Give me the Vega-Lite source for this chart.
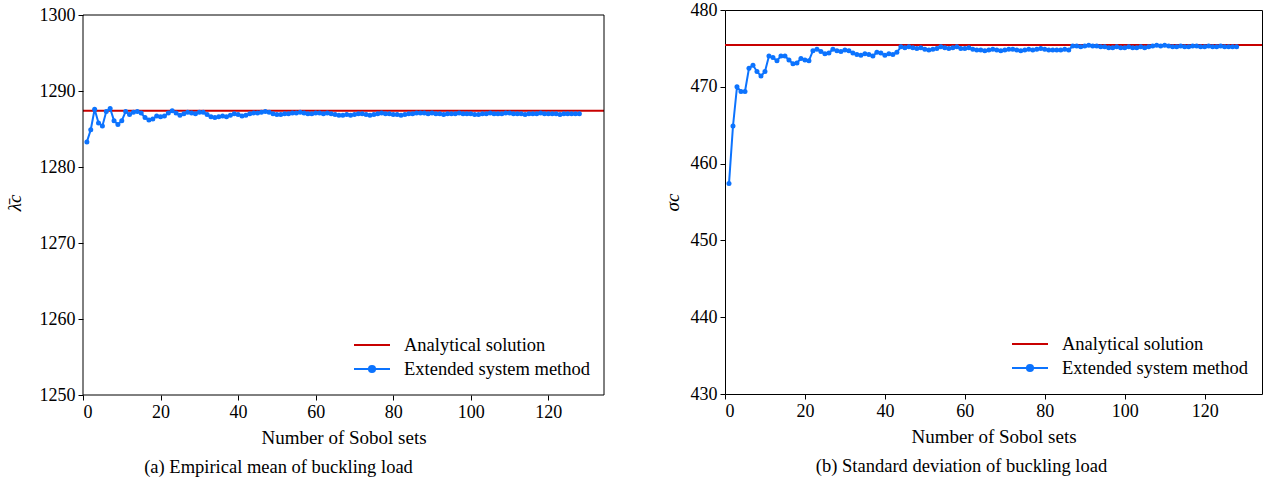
{
  "$schema": "https://vega.github.io/schema/vega-lite/v6.json",
  "padding": {"left": 5, "top": 0, "right": 5, "bottom": 5},
  "background": "white",
  "config": {
    "font": "Liberation Serif",
    "view": {"stroke": "black", "strokeWidth": 1},
    "axis": {
      "labelFont": "Liberation Serif", "labelFontSize": 18, "labelColor": "black",
      "titleFont": "Liberation Serif", "titleFontSize": 19, "titleFontWeight": "normal", "titleColor": "black",
      "tickColor": "black", "tickSize": 5, "tickWidth": 1, "domain": false, "grid": false, "labelPadding": 3
    },
    "legend": {
      "labelFont": "Liberation Serif", "labelFontSize": 18.5, "labelColor": "black", "labelLimit": 0,
      "symbolStrokeWidth": 2, "symbolSize": 1296, "clipHeight": 24, "rowPadding": 0, "padding": 0, "labelOffset": 13
    },
    "title": {"font": "Liberation Serif", "fontSize": 18.5, "fontWeight": "normal", "color": "black"}
  },
  "datasets": {
    "mean": [
      {"n": 1, "v": 1283.3}, {"n": 2, "v": 1284.9}, {"n": 3, "v": 1287.6}, {"n": 4, "v": 1285.8},
      {"n": 5, "v": 1285.4}, {"n": 6, "v": 1287.3}, {"n": 7, "v": 1287.7}, {"n": 8, "v": 1286.1},
      {"n": 9, "v": 1285.6}, {"n": 10, "v": 1286.1}, {"n": 11, "v": 1287.3}, {"n": 12, "v": 1286.9},
      {"n": 13, "v": 1287.2}, {"n": 14, "v": 1287.3}, {"n": 15, "v": 1287.1}, {"n": 16, "v": 1286.5},
      {"n": 17, "v": 1286.2}, {"n": 18, "v": 1286.3}, {"n": 19, "v": 1286.7}, {"n": 20, "v": 1286.6},
      {"n": 21, "v": 1286.7}, {"n": 22, "v": 1287.1}, {"n": 23, "v": 1287.4}, {"n": 24, "v": 1287.1},
      {"n": 25, "v": 1286.8}, {"n": 26, "v": 1287.0}, {"n": 27, "v": 1287.2}, {"n": 28, "v": 1287.1},
      {"n": 29, "v": 1287.0}, {"n": 30, "v": 1287.2}, {"n": 31, "v": 1287.2}, {"n": 32, "v": 1286.9},
      {"n": 33, "v": 1286.6}, {"n": 34, "v": 1286.5}, {"n": 35, "v": 1286.6}, {"n": 36, "v": 1286.7},
      {"n": 37, "v": 1286.6}, {"n": 38, "v": 1286.8}, {"n": 39, "v": 1287.0}, {"n": 40, "v": 1286.9},
      {"n": 41, "v": 1286.7}, {"n": 42, "v": 1286.8}, {"n": 43, "v": 1287.0}, {"n": 44, "v": 1287.1},
      {"n": 45, "v": 1287.1}, {"n": 46, "v": 1287.2}, {"n": 47, "v": 1287.3}, {"n": 48, "v": 1287.2},
      {"n": 49, "v": 1287.0}, {"n": 50, "v": 1286.9}, {"n": 51, "v": 1286.9}, {"n": 52, "v": 1287.0},
      {"n": 53, "v": 1287.0}, {"n": 54, "v": 1287.1}, {"n": 55, "v": 1287.1}, {"n": 56, "v": 1287.2},
      {"n": 57, "v": 1287.1}, {"n": 58, "v": 1287.0}, {"n": 59, "v": 1287.0}, {"n": 60, "v": 1287.1},
      {"n": 61, "v": 1287.1}, {"n": 62, "v": 1287.0}, {"n": 63, "v": 1287.1}, {"n": 64, "v": 1287.0},
      {"n": 65, "v": 1286.9}, {"n": 66, "v": 1286.8}, {"n": 67, "v": 1286.8}, {"n": 68, "v": 1286.9},
      {"n": 69, "v": 1286.8}, {"n": 70, "v": 1286.9}, {"n": 71, "v": 1287.0}, {"n": 72, "v": 1287.0},
      {"n": 73, "v": 1286.9}, {"n": 74, "v": 1286.8}, {"n": 75, "v": 1286.9}, {"n": 76, "v": 1287.0},
      {"n": 77, "v": 1287.1}, {"n": 78, "v": 1287.0}, {"n": 79, "v": 1287.0}, {"n": 80, "v": 1286.9},
      {"n": 81, "v": 1286.9}, {"n": 82, "v": 1286.8}, {"n": 83, "v": 1286.9}, {"n": 84, "v": 1287.0},
      {"n": 85, "v": 1287.0}, {"n": 86, "v": 1287.1}, {"n": 87, "v": 1287.1}, {"n": 88, "v": 1287.1},
      {"n": 89, "v": 1287.0}, {"n": 90, "v": 1287.1}, {"n": 91, "v": 1287.0}, {"n": 92, "v": 1287.0},
      {"n": 93, "v": 1286.9}, {"n": 94, "v": 1287.0}, {"n": 95, "v": 1287.0}, {"n": 96, "v": 1287.0},
      {"n": 97, "v": 1287.1}, {"n": 98, "v": 1287.0}, {"n": 99, "v": 1287.0}, {"n": 100, "v": 1287.0},
      {"n": 101, "v": 1286.9}, {"n": 102, "v": 1286.9}, {"n": 103, "v": 1287.0}, {"n": 104, "v": 1287.0},
      {"n": 105, "v": 1287.1}, {"n": 106, "v": 1287.0}, {"n": 107, "v": 1287.0}, {"n": 108, "v": 1287.0},
      {"n": 109, "v": 1287.1}, {"n": 110, "v": 1287.1}, {"n": 111, "v": 1287.0}, {"n": 112, "v": 1287.0},
      {"n": 113, "v": 1287.0}, {"n": 114, "v": 1286.9}, {"n": 115, "v": 1287.0}, {"n": 116, "v": 1287.0},
      {"n": 117, "v": 1287.0}, {"n": 118, "v": 1287.1}, {"n": 119, "v": 1287.0}, {"n": 120, "v": 1287.0},
      {"n": 121, "v": 1287.0}, {"n": 122, "v": 1287.0}, {"n": 123, "v": 1286.9}, {"n": 124, "v": 1287.0},
      {"n": 125, "v": 1287.0}, {"n": 126, "v": 1287.0}, {"n": 127, "v": 1287.0}, {"n": 128, "v": 1287.0}
    ],
    "std": [
      {"n": 1, "v": 457.4}, {"n": 2, "v": 464.9}, {"n": 3, "v": 470.0}, {"n": 4, "v": 469.4},
      {"n": 5, "v": 469.4}, {"n": 6, "v": 472.4}, {"n": 7, "v": 472.8}, {"n": 8, "v": 472.0},
      {"n": 9, "v": 471.4}, {"n": 10, "v": 472.0}, {"n": 11, "v": 474.0}, {"n": 12, "v": 473.8},
      {"n": 13, "v": 473.4}, {"n": 14, "v": 474.0}, {"n": 15, "v": 474.0}, {"n": 16, "v": 473.5},
      {"n": 17, "v": 473.0}, {"n": 18, "v": 473.1}, {"n": 19, "v": 473.7}, {"n": 20, "v": 473.5},
      {"n": 21, "v": 473.4}, {"n": 22, "v": 474.7}, {"n": 23, "v": 474.9}, {"n": 24, "v": 474.6},
      {"n": 25, "v": 474.3}, {"n": 26, "v": 474.4}, {"n": 27, "v": 474.9}, {"n": 28, "v": 474.7},
      {"n": 29, "v": 474.6}, {"n": 30, "v": 474.8}, {"n": 31, "v": 474.7}, {"n": 32, "v": 474.4},
      {"n": 33, "v": 474.2}, {"n": 34, "v": 474.1}, {"n": 35, "v": 474.3}, {"n": 36, "v": 474.2},
      {"n": 37, "v": 474.0}, {"n": 38, "v": 474.5}, {"n": 39, "v": 474.4}, {"n": 40, "v": 474.1},
      {"n": 41, "v": 474.3}, {"n": 42, "v": 474.2}, {"n": 43, "v": 474.5}, {"n": 44, "v": 475.2},
      {"n": 45, "v": 475.1}, {"n": 46, "v": 475.2}, {"n": 47, "v": 475.1}, {"n": 48, "v": 475.0},
      {"n": 49, "v": 475.1}, {"n": 50, "v": 474.9}, {"n": 51, "v": 474.8}, {"n": 52, "v": 474.9},
      {"n": 53, "v": 475.0}, {"n": 54, "v": 475.2}, {"n": 55, "v": 475.1}, {"n": 56, "v": 475.0},
      {"n": 57, "v": 475.1}, {"n": 58, "v": 475.2}, {"n": 59, "v": 475.0}, {"n": 60, "v": 475.0},
      {"n": 61, "v": 475.1}, {"n": 62, "v": 474.9}, {"n": 63, "v": 474.8}, {"n": 64, "v": 474.8},
      {"n": 65, "v": 474.7}, {"n": 66, "v": 474.8}, {"n": 67, "v": 474.9}, {"n": 68, "v": 474.8},
      {"n": 69, "v": 474.7}, {"n": 70, "v": 474.8}, {"n": 71, "v": 474.9}, {"n": 72, "v": 474.9},
      {"n": 73, "v": 474.8}, {"n": 74, "v": 474.7}, {"n": 75, "v": 474.8}, {"n": 76, "v": 474.9},
      {"n": 77, "v": 474.8}, {"n": 78, "v": 474.9}, {"n": 79, "v": 475.0}, {"n": 80, "v": 474.9},
      {"n": 81, "v": 474.8}, {"n": 82, "v": 474.8}, {"n": 83, "v": 474.8}, {"n": 84, "v": 474.8},
      {"n": 85, "v": 474.9}, {"n": 86, "v": 474.8}, {"n": 87, "v": 475.3}, {"n": 88, "v": 475.3},
      {"n": 89, "v": 475.2}, {"n": 90, "v": 475.3}, {"n": 91, "v": 475.4}, {"n": 92, "v": 475.3},
      {"n": 93, "v": 475.3}, {"n": 94, "v": 475.2}, {"n": 95, "v": 475.2}, {"n": 96, "v": 475.1},
      {"n": 97, "v": 475.1}, {"n": 98, "v": 475.2}, {"n": 99, "v": 475.1}, {"n": 100, "v": 475.1},
      {"n": 101, "v": 475.2}, {"n": 102, "v": 475.1}, {"n": 103, "v": 475.1}, {"n": 104, "v": 475.2},
      {"n": 105, "v": 475.1}, {"n": 106, "v": 475.2}, {"n": 107, "v": 475.3}, {"n": 108, "v": 475.4},
      {"n": 109, "v": 475.3}, {"n": 110, "v": 475.4}, {"n": 111, "v": 475.3}, {"n": 112, "v": 475.2},
      {"n": 113, "v": 475.2}, {"n": 114, "v": 475.3}, {"n": 115, "v": 475.2}, {"n": 116, "v": 475.2},
      {"n": 117, "v": 475.3}, {"n": 118, "v": 475.3}, {"n": 119, "v": 475.2}, {"n": 120, "v": 475.2},
      {"n": 121, "v": 475.3}, {"n": 122, "v": 475.2}, {"n": 123, "v": 475.2}, {"n": 124, "v": 475.3},
      {"n": 125, "v": 475.2}, {"n": 126, "v": 475.2}, {"n": 127, "v": 475.2}, {"n": 128, "v": 475.2}
    ]
  },
  "resolve": {
    "scale": {"x": "independent", "y": "independent", "color": "independent"},
    "legend": {"color": "independent"}
  },
  "spacing": 57,
  "hconcat": [
    {
      "width": 521,
      "height": 385,
      "view": {"stroke": null},
      "title": {"text": "(a) Empirical mean of buckling load", "orient": "bottom", "anchor": "middle", "frame": "group", "dx": -65, "offset": 11},
      "layer": [
        {
          "data": {"values": [{"v": 1287.4}]},
          "mark": {"type": "rule", "strokeWidth": 2},
          "encoding": {
            "y": {"field": "v", "type": "quantitative"},
            "color": {"datum": "Analytical solution"}
          }
        },
        {
          "data": {"name": "mean"},
          "mark": {"type": "line", "strokeWidth": 2, "point": {"filled": true, "size": 25, "opacity": 1}},
          "encoding": {
            "x": {"field": "n", "type": "quantitative", "scale": {"domain": [0, 134.35], "nice": false, "zero": false},
                  "axis": {"values": [0, 20, 40, 60, 80, 100, 120], "title": "Number of Sobol sets", "titlePadding": 7}},
            "y": {"field": "v", "type": "quantitative", "scale": {"domain": [1250, 1300.658], "nice": false, "zero": false},
                  "axis": {"values": [1250, 1260, 1270, 1280, 1290, 1300], "format": "d", "title": "λ̄c", "titleFontStyle": "italic", "titlePadding": 15}},
            "color": {
              "datum": "Extended system method",
              "type": "nominal",
              "scale": {"domain": ["Analytical solution", "Extended system method"], "range": ["#c80000", "#0c73fe"]},
              "legend": {
                "title": null, "orient": "bottom-right", "offset": 14,
                "encode": {"symbols": {"update": {
                  "shape": {"signal": "datum.value === 'Analytical solution' ? 'M-1,0L1,0' : 'M-1,0L1,0M0.17,0A0.17,0.17,0,1,1,-0.17,0A0.17,0.17,0,1,1,0.17,0Z'"},
                  "fill": {"signal": "datum.value === 'Analytical solution' ? 'transparent' : '#0c73fe'"},
                  "fillOpacity": {"value": 1}
                }}}
              }
            }
          }
        },
        {
          "data": {"values": [
            {"x0": 0, "x1": 134.35, "y0": 1300, "y1": 1300},
            {"x0": 0, "x1": 134.35, "y0": 1250, "y1": 1250},
            {"x0": 0, "x1": 0, "y0": 1250, "y1": 1300},
            {"x0": 134.35, "x1": 134.35, "y0": 1250, "y1": 1300}
          ]},
          "mark": {"type": "rule", "color": "black", "strokeWidth": 1},
          "encoding": {
            "x": {"field": "x0", "type": "quantitative"},
            "x2": {"field": "x1"},
            "y": {"field": "y0", "type": "quantitative"},
            "y2": {"field": "y1"}
          }
        }
      ]
    },
    {
      "width": 537,
      "height": 384,
      "title": {"text": "(b) Standard deviation of buckling load", "orient": "bottom", "anchor": "middle", "frame": "group", "dx": -32, "offset": 11},
      "layer": [
        {
          "data": {"values": [{"v": 475.45}]},
          "mark": {"type": "rule", "strokeWidth": 2},
          "encoding": {
            "y": {"field": "v", "type": "quantitative"},
            "color": {"datum": "Analytical solution"}
          }
        },
        {
          "data": {"name": "std"},
          "mark": {"type": "line", "strokeWidth": 2, "point": {"filled": true, "size": 25, "opacity": 1}},
          "encoding": {
            "x": {"field": "n", "type": "quantitative", "scale": {"domain": [0, 134.35], "nice": false, "zero": false},
                  "axis": {"values": [0, 20, 40, 60, 80, 100, 120], "title": "Number of Sobol sets", "titlePadding": 7}},
            "y": {"field": "v", "type": "quantitative", "scale": {"domain": [430, 480], "nice": false, "zero": false},
                  "axis": {"values": [430, 440, 450, 460, 470, 480], "format": "d", "title": "σc", "titleFontStyle": "italic", "titlePadding": 8}},
            "color": {
              "datum": "Extended system method",
              "type": "nominal",
              "scale": {"domain": ["Analytical solution", "Extended system method"], "range": ["#c80000", "#0c73fe"]},
              "legend": {
                "title": null, "orient": "bottom-right", "offset": 14,
                "encode": {"symbols": {"update": {
                  "shape": {"signal": "datum.value === 'Analytical solution' ? 'M-1,0L1,0' : 'M-1,0L1,0M0.17,0A0.17,0.17,0,1,1,-0.17,0A0.17,0.17,0,1,1,0.17,0Z'"},
                  "fill": {"signal": "datum.value === 'Analytical solution' ? 'transparent' : '#0c73fe'"},
                  "fillOpacity": {"value": 1}
                }}}
              }
            }
          }
        }
      ]
    }
  ]
}
